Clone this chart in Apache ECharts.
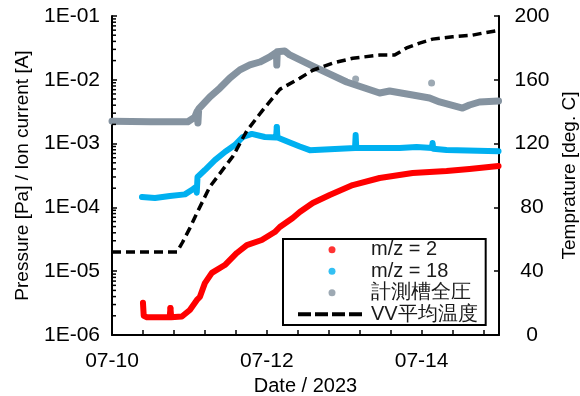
<!DOCTYPE html>
<html><head><meta charset="utf-8">
<script src="https://cdn.jsdelivr.net/npm/echarts@6/dist/echarts.min.js"></script>
<style>html,body{margin:0;padding:0;background:#fff}#c{width:580px;height:396px}</style>
</head><body><div id="c"></div>
<script>
// x values are days since 07-10 00:00
const xTickLabelDays = [0, 2, 4];
const xTickLabels = ['07-10', '07-12', '07-14'];
const leftTickLabels = ['1E-06', '1E-05', '1E-04', '1E-03', '1E-02', '1E-01'];
const leftMinorTicks = [2e-6,3e-6,4e-6,5e-6,6e-6,7e-6,8e-6,9e-6,
  2e-5,3e-5,4e-5,5e-5,6e-5,7e-5,8e-5,9e-5,
  2e-4,3e-4,4e-4,5e-4,6e-4,7e-4,8e-4,9e-4,
  2e-3,3e-3,4e-3,5e-3,6e-3,7e-3,8e-3,9e-3,
  2e-2,3e-2,4e-2,5e-2,6e-2,7e-2,8e-2,9e-2];

const mz2Days = [0.40, 0.41, 0.45, 0.745, 0.755, 0.765, 0.903, 1.006, 1.097, 1.135, 1.2, 1.29, 1.458, 1.613, 1.742, 1.935, 2.103, 2.168, 2.335, 2.426, 2.594, 2.813, 3.11, 3.458, 3.884, 4.323, 4.619, 4.994];
const mz2Vals = [3.2e-6, 2.0e-6, 1.9e-6, 1.9e-6, 2.65e-6, 1.9e-6, 1.95e-6, 2.47e-6, 3.54e-6, 3.94e-6, 6.5e-6, 9.4e-6, 1.25e-5, 1.93e-5, 2.57e-5, 3.08e-5, 4.11e-5, 4.93e-5, 6.83e-5, 8.47e-5, 1.17e-4, 1.56e-4, 2.24e-4, 2.89e-4, 3.46e-4, 3.72e-4, 4.0e-4, 4.46e-4];

const mz18Days = [0.387, 0.555, 0.748, 0.942, 1.045, 1.085, 1.095, 1.105, 1.2, 1.329, 1.458, 1.587, 1.69, 1.806, 1.974, 2.12, 2.129, 2.138, 2.297, 2.426, 2.555, 3.14, 3.148, 3.156, 3.716, 3.935, 4.135, 4.142, 4.15, 4.323, 4.994];
const mz18Vals = [1.46e-4, 1.40e-4, 1.51e-4, 1.6e-4, 1.93e-4, 2.1e-4, 1.7e-4, 3.0e-4, 3.85e-4, 5.5e-4, 7.4e-4, 9.5e-4, 1.27e-3, 1.42e-3, 1.27e-3, 1.25e-3, 1.82e-3, 1.25e-3, 1.04e-3, 9.0e-4, 7.9e-4, 8.5e-4, 1.36e-3, 8.5e-4, 8.5e-4, 8.85e-4, 8.5e-4, 1.02e-3, 8.3e-4, 7.94e-4, 7.6e-4];

const totalDays = [0.0, 0.5, 0.98, 1.07, 1.10, 1.11, 1.12, 1.265, 1.394, 1.523, 1.652, 1.781, 1.91, 2.039, 2.125, 2.129, 2.135, 2.232, 2.297, 2.594, 3.032, 3.458, 3.587, 3.884, 4.103, 4.232, 4.529, 4.619, 4.748, 4.994];
const totalVals = [2.25e-3, 2.2e-3, 2.2e-3, 2.6e-3, 3.2e-3, 2.1e-3, 3.5e-3, 5.4e-3, 7.43e-3, 1.07e-2, 1.43e-2, 1.71e-2, 1.9e-2, 2.28e-2, 2.7e-2, 1.7e-2, 2.75e-2, 2.83e-2, 2.45e-2, 1.64e-2, 9.25e-3, 6.2e-3, 6.67e-3, 5.78e-3, 5.19e-3, 4.49e-3, 3.61e-3, 4.03e-3, 4.49e-3, 4.65e-3];
const totalOutlierDays = [3.148, 4.129];
const totalOutlierVals = [1.03e-2, 8.9e-3];

const tempDays = [0, 0.84, 0.91, 1.006, 1.097, 1.265, 1.561, 1.742, 1.948, 2.168, 2.426, 2.594, 2.852, 3.11, 3.458, 3.652, 3.806, 3.974, 4.142, 4.4, 4.658, 4.813, 4.994];
const tempVals = [52, 52, 58, 67, 76.5, 93, 112, 128, 141, 154, 161, 166, 170.5, 173.5, 175.5, 175.5, 180, 183, 185.5, 187, 188, 189.5, 191];

const names = ['m/z = 2', 'm/z = 18', '計測槽全圧', 'VV平均温度'];
const colors = ['#FF0000', '#00B0F0', '#8593A0', '#000000'];

const zip = (a, b) => a.map((v, i) => [v, b[i]]);
const FONT = "'Liberation Sans', Arial, sans-serif";

const chart = echarts.init(document.getElementById('c'));
const axisLine = { show: true, lineStyle: { color: '#000', width: 2 } };
const axisTick = { show: true, inside: true, length: 5, lineStyle: { color: '#000', width: 1.5 } };

chart.setOption({
  animation: false,
  backgroundColor: '#fff',
  grid: { left: 112, right: 81, top: 16, bottom: 61, containLabel: false, outerBoundsMode: 'none' },
  xAxis: {
    type: 'value', min: 0, max: 5, interval: 0.4,
    name: 'Date / 2023', nameLocation: 'middle', nameGap: 38,
    nameTextStyle: { fontFamily: FONT, fontSize: 20, color: '#000' },
    axisLine, axisTick, splitLine: { show: false },
    axisLabel: {
      margin: 16, fontFamily: FONT, fontSize: 21, color: '#000',
      formatter: v => { const i = xTickLabelDays.findIndex(d => Math.abs(d - v) < 1e-6); return i >= 0 ? xTickLabels[i] : ''; }
    }
  },
  yAxis: [{
    type: 'log', logBase: 10, min: 1e-6, max: 1e-1,
    name: 'Pressure [Pa] / Ion current [A]', nameLocation: 'middle', nameGap: 80, nameRotate: 90,
    nameTextStyle: { fontFamily: FONT, fontSize: 19, color: '#000' },
    axisLine, axisTick, splitLine: { show: false }, minorTick: { show: false },
    axisLabel: {
      margin: 12, fontFamily: FONT, fontSize: 21, color: '#000',
      formatter: v => leftTickLabels[Math.round(Math.log10(v)) + 6] || ''
    }
  }, {
    type: 'value', min: 0, max: 200, interval: 40, position: 'right', alignTicks: false,
    name: 'Temprature [deg. C]', nameLocation: 'middle', nameGap: 55, nameRotate: 90,
    nameTextStyle: { fontFamily: FONT, fontSize: 19, color: '#000' },
    axisLine, axisTick, splitLine: { show: false },
    axisLabel: { margin: 33, align: 'center', fontFamily: FONT, fontSize: 21, color: '#000' }
  }],
  legend: {
    data: [names[0], names[1], names[2], { name: names[3], lineStyle: { width: 4, type: [13, 4] }, itemStyle: { opacity: 0 } }],
    orient: 'vertical', left: 283, top: 239,
    padding: [0, 8, 0, 13], borderColor: '#000', borderWidth: 2, backgroundColor: '#fff',
    itemWidth: 68, itemHeight: 7, itemGap: 0,
    textStyle: { fontFamily: FONT, fontSize: 20, lineHeight: 21.5, color: '#1a1a1a' }
  },
  series: [
    { name: names[0], type: 'scatter', symbolSize: 6, itemStyle: { color: colors[0] }, data: [[mz2Days[4], mz2Vals[4]]], z: 3 },
    { name: names[1], type: 'scatter', symbolSize: 6, itemStyle: { color: colors[1] }, data: [[mz18Days[16], mz18Vals[16]]], z: 3 },
    { name: names[2], type: 'scatter', symbolSize: 7, itemStyle: { color: colors[2] }, data: zip(totalOutlierDays, totalOutlierVals), z: 3 },
    { name: names[2], type: 'line', symbol: 'none', color: colors[2], lineStyle: { width: 7, color: colors[2], cap: 'round', join: 'round' }, data: zip(totalDays, totalVals), z: 2 },
    { name: names[1], type: 'line', symbol: 'none', color: colors[1], lineStyle: { width: 6, color: colors[1], cap: 'round', join: 'round' }, data: zip(mz18Days, mz18Vals), z: 2 },
    { name: names[0], type: 'line', symbol: 'none', color: colors[0], lineStyle: { width: 6, color: colors[0], cap: 'round', join: 'round' }, data: zip(mz2Days, mz2Vals), z: 2 },
    { name: names[3], type: 'line', yAxisIndex: 1, symbol: 'none', color: colors[3], lineStyle: { width: 3.5, color: colors[3], type: [9, 5] }, data: zip(tempDays, tempVals), z: 4 },
    {
      type: 'custom', silent: true, clip: false, z: 5,
      data: leftMinorTicks.map(v => [0, v]),
      renderItem: (params, api) => {
        const p = api.coord([api.value(0), api.value(1)]);
        return { type: 'line', shape: { x1: p[0], y1: p[1], x2: p[0] + 4, y2: p[1] }, style: { stroke: '#000', lineWidth: 1.5 } };
      }
    }
  ]
});
</script>
</body></html>
